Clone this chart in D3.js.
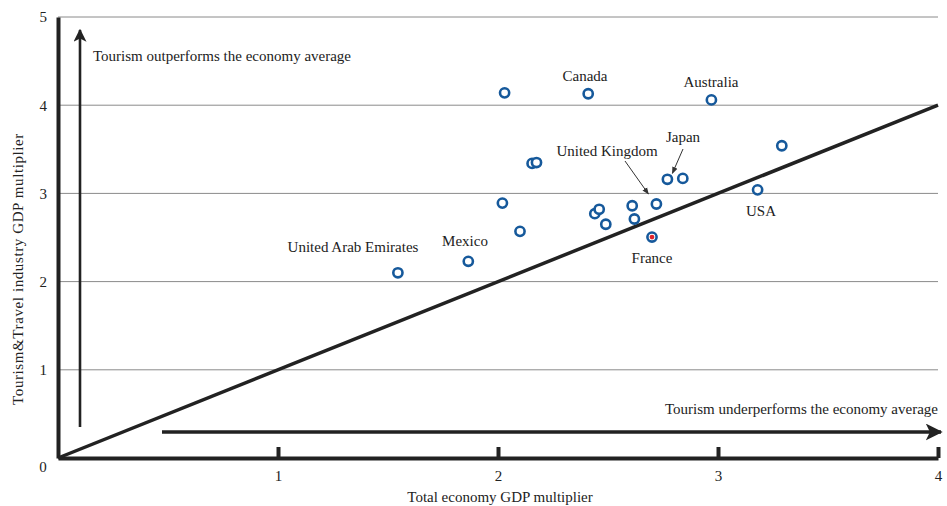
<!DOCTYPE html>
<html>
<head>
<meta charset="utf-8">
<script src="https://cdn.jsdelivr.net/npm/d3@7"></script>
<style>
body { margin: 0; background: #fff; }
text { font-family: "Liberation Serif", "DejaVu Serif", serif; fill: #222; }
.tick text { font-size: 15px; font-family: "Liberation Serif", serif; }
.axis path.domain { stroke: #222; stroke-width: 4; }
.axis .tick line { stroke: #222; stroke-width: 4; }
.grid line { stroke: #8a8a8a; stroke-width: 1; }
.label { font-size: 15px; }
.dot { fill: #fff; stroke: #16599b; stroke-width: 2.6; }
</style>
</head>
<body>
<div id="chart"></div>
<script>
const width = 947, height = 506;
const x_min = 0, x_max = 4, y_min = 0, y_max = 5;

// points
const countries = ['United Arab Emirates', 'Mexico', '', 'Canada', 'Australia', '', '', '', '', '', '', '', '', '', 'United Kingdom', 'France', 'Japan', '', '', 'USA'];
const total_mult = [1.545, 1.865, 2.03, 2.41, 2.97, 2.155, 2.175, 2.02, 2.10, 2.44, 2.46, 2.49, 2.61, 2.62, 2.72, 2.70, 2.77, 2.84, 3.29, 3.18];
const tourism_mult = [2.10, 2.23, 4.14, 4.13, 4.06, 3.34, 3.35, 2.89, 2.57, 2.77, 2.82, 2.65, 2.86, 2.71, 2.88, 2.505, 3.16, 3.17, 3.54, 3.04];
const x_ticks = [1, 2, 3, 4];
const y_ticks = [1, 2, 3, 4, 5];

const labels = {
    title_up: 'Tourism outperforms the economy average',
    title_down: 'Tourism underperforms the economy average',
    x: 'Total economy GDP multiplier',
    y: 'Tourism&Travel industry GDP multiplier'
};

const xScale = d3.scaleLinear().domain([x_min, x_max]).range([58, 938]);
const yScale = d3.scaleLinear().domain([y_min, y_max]).range([458, 17]);

let svg = d3.select('#chart').append('svg')
    .attr('width', width)
    .attr('height', height);

let defs = svg.append('defs');
defs.append('marker')
    .attr('id', 'head')
    .attr('viewBox', '0 0 10 10')
    .attr('refX', 9).attr('refY', 5)
    .attr('markerWidth', 5).attr('markerHeight', 5)
    .attr('markerUnits', 'strokeWidth')
    .attr('orient', 'auto')
    .append('path')
    .attr('d', 'M0,0 L10,5 L0,10 L2.5,5 Z')
    .attr('fill', '#222');
defs.append('marker')
    .attr('id', 'small')
    .attr('viewBox', '0 0 10 10')
    .attr('refX', 9).attr('refY', 5)
    .attr('markerWidth', 7).attr('markerHeight', 7)
    .attr('markerUnits', 'strokeWidth')
    .attr('orient', 'auto')
    .append('path')
    .attr('d', 'M0,1 L10,5 L0,9 Z')
    .attr('fill', '#333');

// gridlines
svg.append('g').attr('class', 'grid')
    .selectAll('line')
    .data(y_ticks)
    .enter().append('line')
    .attr('x1', xScale(0)).attr('x2', xScale(4))
    .attr('y1', d => yScale(d)).attr('y2', d => yScale(d));

// y axis
svg.append('g')
    .attr('class', 'y axis')
    .attr('transform', 'translate(' + xScale(0) + ',0)')
    .call(d3.axisLeft(yScale).tickValues(y_ticks).tickFormat(d3.format('d'))
        .tickSize(0).tickPadding(11).tickSizeOuter(0));

// x axis, ticks pointing up
svg.append('g')
    .attr('class', 'x axis')
    .attr('transform', 'translate(0,' + yScale(0) + ')')
    .call(d3.axisBottom(xScale).tickValues(x_ticks).tickFormat(d3.format('d'))
        .tickSize(-11).tickPadding(12).tickSizeOuter(0));

svg.append('text')
    .attr('x', 43).attr('y', 472)
    .attr('text-anchor', 'middle')
    .style('font-size', '15px')
    .text('0');

// 45 degree reference line
svg.append('line')
    .attr('x1', xScale(0)).attr('y1', yScale(0))
    .attr('x2', xScale(4)).attr('y2', yScale(4))
    .attr('stroke', '#222').attr('stroke-width', 3.5);

// direction arrows
svg.append('line')
    .attr('x1', 80).attr('y1', 427).attr('x2', 80).attr('y2', 30)
    .attr('stroke', '#222').attr('stroke-width', 2.6)
    .attr('marker-end', 'url(#head)');
svg.append('line')
    .attr('x1', 162).attr('y1', 432).attr('x2', 941).attr('y2', 432)
    .attr('stroke', '#222').attr('stroke-width', 3.4)
    .attr('marker-end', 'url(#head)');

svg.append('text').attr('class', 'label')
    .attr('x', 93).attr('y', 61)
    .text(labels.title_up);
svg.append('text').attr('class', 'label')
    .attr('x', 938).attr('y', 414)
    .attr('text-anchor', 'end')
    .text(labels.title_down);

// axis titles
svg.append('text').attr('class', 'label')
    .attr('x', 500).attr('y', 502)
    .attr('text-anchor', 'middle')
    .text(labels.x);
svg.append('text').attr('class', 'label')
    .attr('transform', 'translate(23,269) rotate(-90)')
    .attr('text-anchor', 'middle')
    .style('letter-spacing', '0.6px')
    .text(labels.y);

// dots
const pts = total_mult.map((v, i) => ({x: v, y: tourism_mult[i], name: countries[i]}));
svg.append('g').selectAll('circle')
    .data(pts)
    .enter().append('circle')
    .attr('class', 'dot')
    .attr('cx', d => xScale(d.x))
    .attr('cy', d => yScale(d.y))
    .attr('r', 4.6);
svg.append('circle')
    .attr('cx', xScale(2.70)).attr('cy', yScale(2.505))
    .attr('r', 2.4).attr('fill', '#e0242b');

// country labels
const label_pos = {
    'United Arab Emirates': [353, 252],
    'Mexico': [465, 246],
    'Canada': [585, 81],
    'Australia': [711, 87],
    'United Kingdom': [607, 156],
    'Japan': [683, 142],
    'France': [652, 263],
    'USA': [761, 216]
};
svg.append('g').selectAll('text')
    .data(pts.filter(d => d.name != ''))
    .enter().append('text')
    .attr('class', 'label')
    .attr('text-anchor', 'middle')
    .attr('x', d => label_pos[d.name][0])
    .attr('y', d => label_pos[d.name][1])
    .text(d => d.name);

// pointer arrows
svg.append('line')
    .attr('x1', 625).attr('y1', 161).attr('x2', xScale(2.72) - 8).attr('y2', yScale(2.88) - 10)
    .attr('stroke', '#333').attr('stroke-width', 1)
    .attr('marker-end', 'url(#small)');
svg.append('line')
    .attr('x1', 683).attr('y1', 149).attr('x2', xScale(2.77) + 5).attr('y2', yScale(3.16) - 6)
    .attr('stroke', '#333').attr('stroke-width', 1)
    .attr('marker-end', 'url(#small)');
</script>
</body>
</html>
